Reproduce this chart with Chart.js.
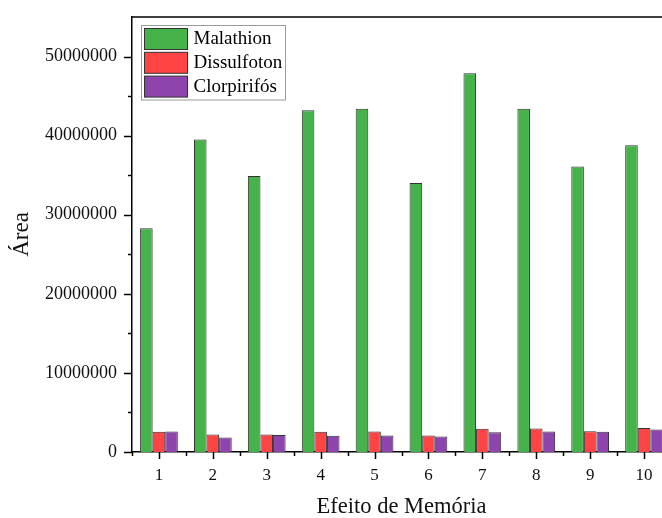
<!DOCTYPE html>
<html>
<head>
<meta charset="utf-8">
<title>Efeito de Memória</title>
<script src="https://cdn.jsdelivr.net/npm/chart.js@4/dist/chart.umd.min.js"></script>
<style>
    html, body { margin: 0; padding: 0; background: #fff; overflow: hidden; }
    #wrap { width: 671px; height: 518px; }
</style>
</head>
<body>
<div id="wrap"><canvas id="memoria" width="671" height="518"></canvas></div>
<script>
'use strict';

const categorias = ['1', '2', '3', '4', '5', '6', '7', '8', '9', '10'];
const malathion = [28300000, 39500000, 34900000, 43200000, 43400000, 34000000, 47900000, 43400000, 36100000, 38800000];
const dissulfoton = [2560000, 2200000, 2200000, 2560000, 2600000, 2100000, 2930000, 2970000, 2620000, 3050000];
const clorpirifos = [2600000, 1830000, 2150000, 2060000, 2100000, 1950000, 2500000, 2600000, 2550000, 2850000];
const yTicks = [0, 10000000, 20000000, 30000000, 40000000, 50000000];

const serif = "'Liberation Serif', 'Times New Roman', serif";

// axis ticks (major + minor), top frame line
const eixos = {
    id: 'eixos',
    afterDraw(chart) {
        const { ctx, chartArea, scales } = chart;
        const y = scales.y, x = scales.x;
        ctx.save();
        ctx.strokeStyle = '#000';
        ctx.lineWidth = 1.5;

        ctx.beginPath();
        ctx.moveTo(chartArea.left - 1, chartArea.top);
        ctx.lineTo(chartArea.right, chartArea.top);
        ctx.stroke();

        ctx.beginPath();
        for (let v = 0; v <= 50000000; v += 5000000) {
            let py = Math.round(y.getPixelForValue(v)) + 0.5;
            let len = (v % 10000000 === 0) ? 8 : 4;
            ctx.moveTo(chartArea.left - len, py);
            ctx.lineTo(chartArea.left, py);
        }
        let half = (x.getPixelForValue(1) - x.getPixelForValue(0)) / 2;
        for (let i = 0; i < categorias.length; i++) {
            let px = Math.round(x.getPixelForValue(i)) + 0.5;
            ctx.moveTo(px, chartArea.bottom);
            ctx.lineTo(px, chartArea.bottom + 7);
            let mx = Math.round(x.getPixelForValue(i) - half) + 0.5;
            ctx.moveTo(mx, chartArea.bottom);
            ctx.lineTo(mx, chartArea.bottom + 4);
        }
        ctx.stroke();
        ctx.restore();
    }
};

// boxed legend in the top-left corner of the plot
const legenda = {
    id: 'legenda',
    afterDraw(chart) {
        const { ctx, chartArea } = chart;
        const sets = chart.data.datasets;
        const bx = chartArea.left + 9.5, by = chartArea.top + 8.5;
        const rowH = 23.8;

        ctx.save();
        ctx.fillStyle = '#fff';
        ctx.strokeStyle = '#9a9a9a';
        ctx.lineWidth = 1;
        ctx.fillRect(bx, by, 144, 74.5);
        ctx.strokeRect(bx, by, 144, 74.5);

        ctx.font = '19px ' + serif;
        ctx.textBaseline = 'middle';
        sets.forEach((ds, i) => {
            let sy = by + 3 + i * rowH;
            ctx.fillStyle = ds.backgroundColor;
            ctx.fillRect(bx + 3, sy, 43, 21);
            ctx.strokeStyle = '#333';
            ctx.strokeRect(bx + 3, sy, 43, 21);
            ctx.fillStyle = '#000';
            ctx.fillText(ds.label, bx + 52, sy + 11);
        });
        ctx.restore();
    }
};

new Chart(document.querySelector('canvas#memoria'), {
    type: 'bar',
    data: {
        labels: categorias,
        datasets: [{
            label: 'Malathion',
            data: malathion,
            backgroundColor: '#46b34a'
        }, {
            label: 'Dissulfoton',
            data: dissulfoton,
            backgroundColor: '#fe4444'
        }, {
            label: 'Clorpirifós',
            data: clorpirifos,
            backgroundColor: '#8e44ad'
        }]
    },
    options: {
        responsive: false,
        animation: false,
        devicePixelRatio: 1,
        layout: {
            padding: { top: 17, right: 0, bottom: 0, left: 0 }
        },
        datasets: {
            bar: {
                borderColor: '#333',
                borderWidth: 1,
                barPercentage: 1,
                categoryPercentage: 0.7
            }
        },
        plugins: {
            legend: { display: false },
            tooltip: { enabled: false }
        },
        scales: {
            x: {
                grid: { display: false, drawTicks: false },
                border: { display: true, color: '#000', width: 1.5 },
                ticks: {
                    color: '#111',
                    padding: 13,
                    font: { family: serif, size: 17 }
                },
                title: {
                    display: true,
                    text: 'Efeito de Memória',
                    color: '#111',
                    padding: { top: 0, bottom: 0 },
                    font: { family: serif, size: 22.5, lineHeight: 1 }
                },
                afterFit(scale) {
                    scale.height = 66;
                }
            },
            y: {
                min: 0,
                max: 55000000,
                grid: { display: false, drawTicks: true, tickLength: 15 },
                border: { display: true, color: '#000', width: 1.5 },
                ticks: {
                    autoSkip: false,
                    color: '#111',
                    padding: 0,
                    font: { family: serif, size: 18 },
                    callback: (value) => String(value)
                },
                afterBuildTicks(scale) {
                    scale.ticks = yTicks.map(v => ({ value: v }));
                },
                title: {
                    display: true,
                    text: 'Área',
                    color: '#111',
                    padding: { top: 10, bottom: 0 },
                    font: { family: serif, size: 23, lineHeight: 1 }
                },
                afterFit(scale) {
                    scale.width = 132;
                }
            }
        }
    },
    plugins: [eixos, legenda]
});
</script>
</body>
</html>
